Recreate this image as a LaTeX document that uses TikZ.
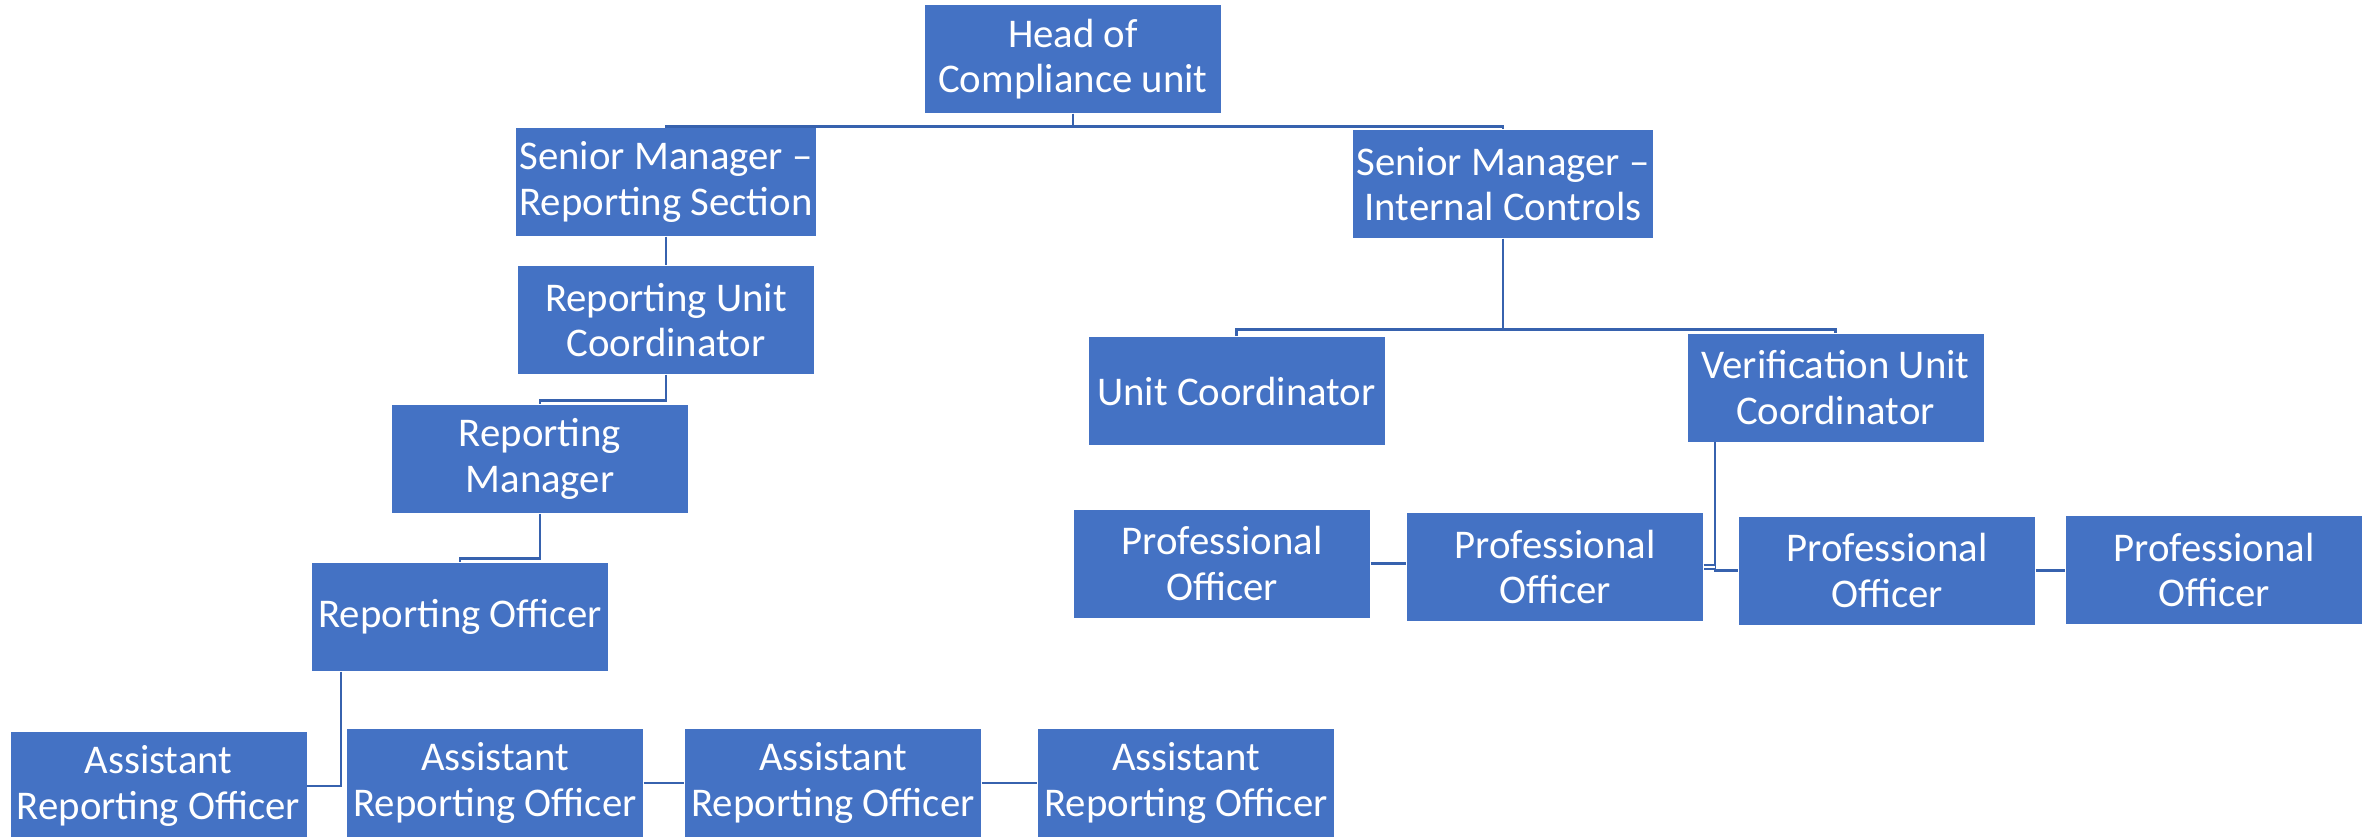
\documentclass[tikz,border=0pt]{standalone}
\usepackage{fontspec}
\setmainfont{Carlito}
\usetikzlibrary{positioning}

\definecolor{boxblue}{HTML}{4472C4}
\definecolor{linkblue}{HTML}{3762AE}

\begin{document}
\begin{tikzpicture}[
  font=\fontsize{11.6}{13}\selectfont,
  % Node styles
  post/.style={rectangle, fill=boxblue, text=white, align=center,
    minimum width=2.96cm, minimum height=1.08cm, inner sep=1pt},
  % Edge styles
  link/.style={draw=linkblue, line width=0.8pt},
  stub/.style={draw=linkblue, line width=0.5pt, double=white, double distance=0.5pt}
]

\useasboundingbox (0,0) rectangle (23.66,-8.36);

% =========================
% Top levels
% =========================
\node[post] (head)  at (10.73,-0.59) {Head of\\Compliance unit};
\node[post] (smrep) at (6.66,-1.82)  {Senior Manager –\\Reporting Section};
\node[post] (smint) at (15.03,-1.84) {Senior Manager –\\Internal Controls};

\draw[link] (head.south) -- ++(0,-0.13) -| (smrep.north);
\draw[link] (head.south) -- ++(0,-0.13) -| (smint.north);

% =========================
% Reporting section branch
% =========================
\node[post] (ruc)  at (6.66,-3.20) {Reporting Unit\\Coordinator};
\node[post] (rman) at (5.40,-4.59) {Reporting\\Manager};
\node[post] (rofc) at (4.60,-6.17) {Reporting Officer};

\node[post] (aro1) at (1.585,-7.86) {Assistant\\Reporting Officer};
\node[post] (aro2) at (4.95,-7.83)  {Assistant\\Reporting Officer};
\node[post] (aro3) at (8.33,-7.83)  {Assistant\\Reporting Officer};
\node[post] (aro4) at (11.86,-7.83) {Assistant\\Reporting Officer};

\draw[link] (smrep) -- (ruc);
\draw[link] (ruc.south) -- ++(0,-0.26) -| (rman.north);
\draw[link] (rman.south) -- ++(0,-0.45) -| (rofc.north);

% officer drop line hangs off the left part of the box
\draw[link] ([xshift=-1.19cm]rofc.south) |- (aro1.east);
\draw[link] (aro2) -- (aro3);
\draw[link] (aro3) -- (aro4);

% =========================
% Internal controls branch
% =========================
\node[post] (ucoord) at (12.365,-3.91) {Unit Coordinator};
\node[post] (vuc)    at (18.355,-3.875) {Verification Unit\\Coordinator};

\draw[link] (smint.south) -- ++(0,-0.91) -| (ucoord.north);
\draw[link] (smint.south) -- ++(0,-0.91) -| (vuc.north);

\node[post] (po1) at (12.22,-5.635) {Professional\\Officer};
\node[post] (po2) at (15.55,-5.67)  {Professional\\Officer};
\node[post] (po3) at (18.87,-5.705) {Professional\\Officer};
\node[post] (po4) at (22.14,-5.70)  {Professional\\Officer};

\coordinate (vdrop) at ([xshift=-1.205cm]vuc.south);
\draw[link] (vdrop) |- (po3.west);
\draw[stub] (po2.east) -- (po2.east -| vdrop);
\draw[link] (po1.east) -- (po1.east -| po2.west);
\draw[link] (po3.east) -- (po3.east -| po4.west);

\end{tikzpicture}
\end{document}
